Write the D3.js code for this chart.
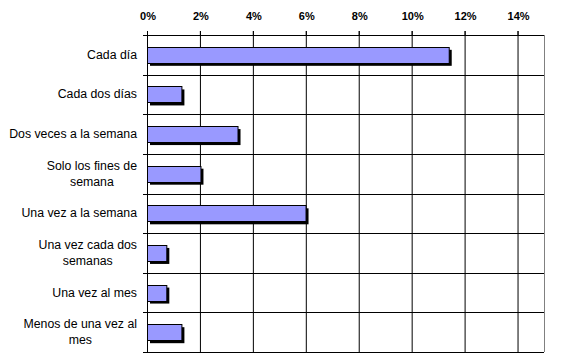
<!DOCTYPE html>
<html><head><meta charset="utf-8">
<script src="https://cdn.jsdelivr.net/npm/d3@7"></script>
<style>body{margin:0;background:#fff}svg{display:block}</style>
</head><body>
<script>
const categories = [["Cada día"],["Cada dos días"],["Dos veces a la semana"],["Solo los fines de","semana"],["Una vez a la semana"],["Una vez cada dos","semanas"],["Una vez al mes"],["Menos de una vez al","mes"]];
const values = [11.4, 1.3, 3.42, 2.02, 5.99, 0.73, 0.73, 1.3];
const tickValues = [0,2,4,6,8,10,12,14];

const W=562,H=357;
const svg=d3.select("body").append("svg").attr("width",W).attr("height",H);
const x=d3.scaleLinear().domain([0,15]).range([147,544]);
const y=d3.scaleBand().domain(d3.range(categories.length)).range([35,352]);

// vertical grid
svg.append("g").selectAll("line").data(tickValues.slice(1)).join("line")
  .attr("x1",d=>x(d)+0.5).attr("x2",d=>x(d)+0.5).attr("y1",31).attr("y2",352)
  .attr("stroke","#000").attr("stroke-width",1);
// horizontal grid
const bounds=d3.range(categories.length+1).map(i=>i<categories.length?y(i):y.range()[1]);
svg.append("g").selectAll("line").data(bounds).join("line")
  .attr("x1",143).attr("x2",544).attr("y1",d=>Math.round(d)+0.5).attr("y2",d=>Math.round(d)+0.5)
  .attr("stroke","#000");
// right border
svg.append("line").attr("x1",544.5).attr("x2",544.5).attr("y1",35).attr("y2",352).attr("stroke","#808080");
// top axis
svg.append("line").attr("x1",147).attr("x2",544).attr("y1",35.5).attr("y2",35.5).attr("stroke","#000");
svg.append("g").selectAll("line").data(tickValues).join("line")
  .attr("x1",d=>x(d)+0.5).attr("x2",d=>x(d)+0.5).attr("y1",31).attr("y2",36).attr("stroke","#000");
svg.append("g").selectAll("text").data(tickValues).join("text")
  .attr("x",d=>x(d)+1).attr("y",20).attr("text-anchor","middle")
  .attr("font-family","Liberation Sans, Arial, sans-serif").attr("font-weight","bold").attr("font-size",11)
  .text(d=>d+"%");

// bars
const bh=16;
const g=svg.append("g");
g.selectAll("rect.sh").data(values).join("rect").attr("class","sh")
  .attr("x",x(0)+3).attr("y",(d,i)=>y(i)+y.bandwidth()/2-bh/2+3).attr("width",d=>x(d)-x(0)).attr("height",bh).attr("fill","#000");
g.selectAll("rect.b").data(values).join("rect").attr("class","b")
  .attr("x",x(0)+0.5).attr("y",(d,i)=>Math.round(y(i)+y.bandwidth()/2-bh/2)+0.5).attr("width",d=>x(d)-x(0)).attr("height",bh)
  .attr("fill","#9999ff").attr("stroke","#000").attr("stroke-width",1);

// left axis
svg.append("line").attr("x1",147.5).attr("x2",147.5).attr("y1",35).attr("y2",352).attr("stroke","#000");

// category labels
categories.forEach((lines,i)=>{
  const cy=y(i)+y.bandwidth()/2;
  const t=svg.append("text").attr("font-family","Liberation Sans, Arial, sans-serif").attr("font-size",12.3).attr("fill","#000");
  const n=lines.length;
  lines.forEach((l,k)=>{
    t.append("tspan").attr("y",cy+4+(k-(n-1)/2)*16).text(l);
  });
  if(n===1){ t.attr("text-anchor","end"); t.selectAll("tspan").attr("x",137); }
  else {
    let maxw=0; t.selectAll("tspan").each(function(){maxw=Math.max(maxw,this.getComputedTextLength());});
    t.attr("text-anchor","middle"); t.selectAll("tspan").attr("x",137-maxw/2);
  }
});
</script>
</body></html>
